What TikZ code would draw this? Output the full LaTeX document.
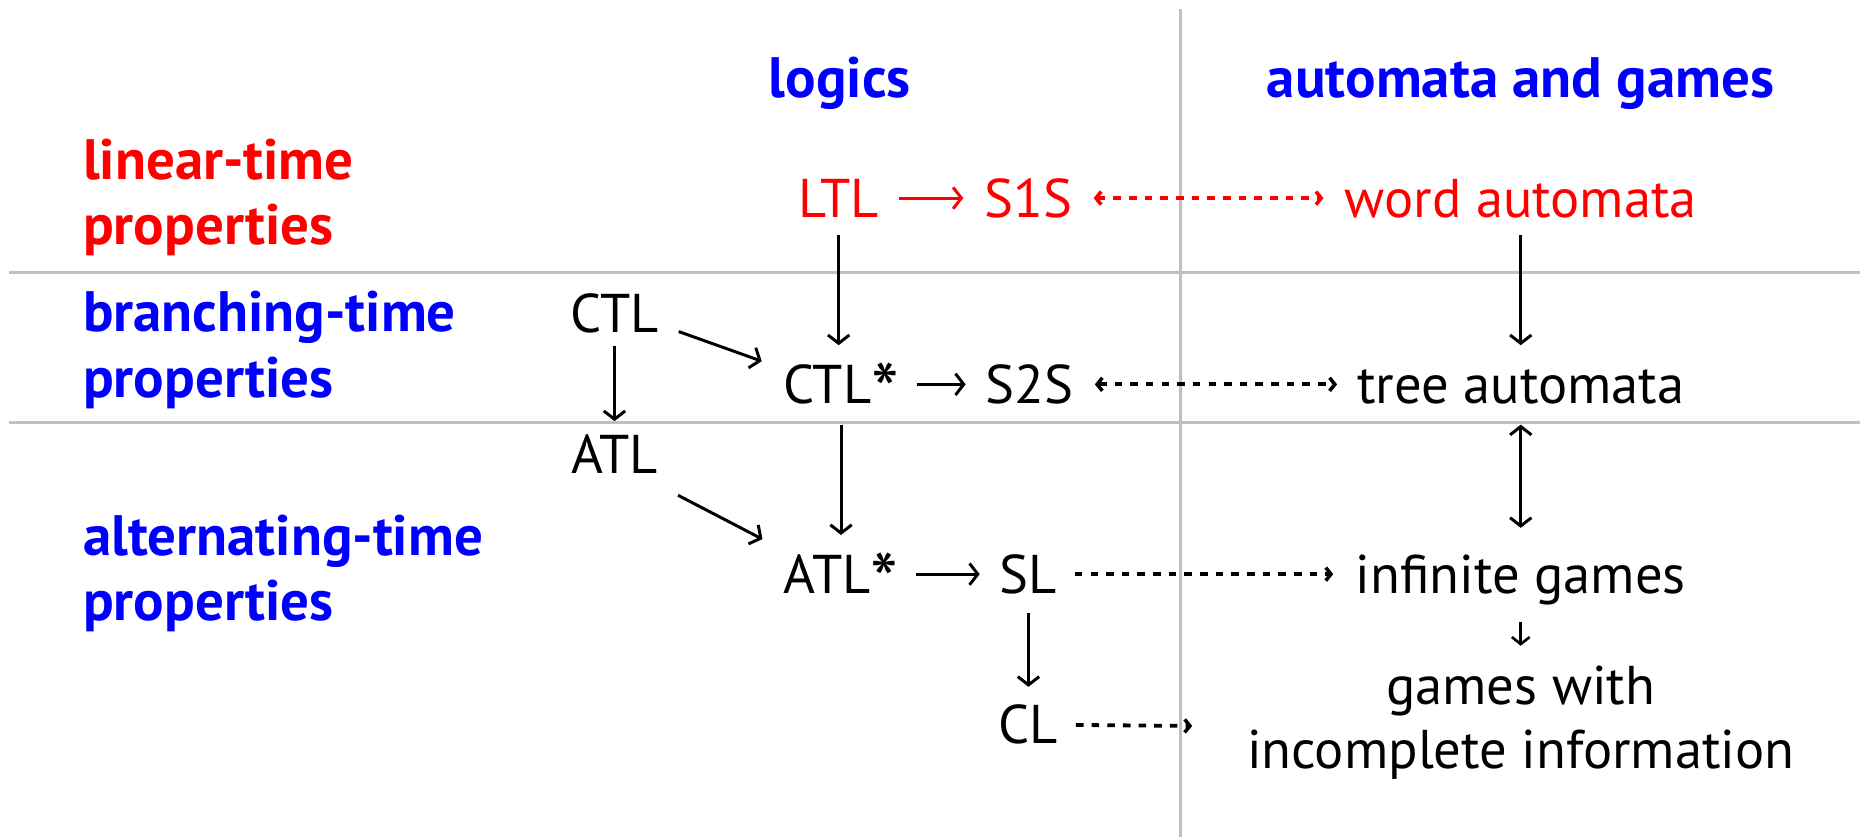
\documentclass[tikz,border=0pt]{standalone}
\usepackage{fontspec}
\setmainfont{PT Sans}
\usetikzlibrary{arrows.meta,calc}
\definecolor{gridgrey}{RGB}{192,192,192}
\definecolor{hblue}{RGB}{0,0,255}
\definecolor{hred}{RGB}{255,0,0}
\newcommand{\bigast}{\raisebox{-0.3em}{\scalebox{1.45}{*}}}
\tikzset{
  lbl/.style={inner sep=0pt, outer sep=0pt, anchor=base, font=\fontsize{23}{27}\selectfont, text height=16pt, text depth=0pt},
  head/.style={inner sep=0pt, outer sep=0pt, font=\bfseries\fontsize{24}{27.8}\selectfont, text=hblue},
  gridline/.style={draw=gridgrey, line width=1.3pt},
  solidarr/.style={line width=1.25pt, -{Straight Barb[length=3.5pt,width=9pt,line width=1.25pt]}},
  dasharr/.style={line width=1.6pt, dash pattern=on 3.2pt off 3.4pt, -{Straight Barb[length=2.2pt,width=5.5pt,line width=1.5pt]}},
  dasharrb/.style={line width=1.6pt, dash pattern=on 3.2pt off 3.4pt, {Straight Barb[length=2.2pt,width=5.5pt,line width=1.5pt]}-{Straight Barb[length=2.2pt,width=5.5pt,line width=1.5pt]}},
  bothsolid/.style={line width=1.25pt, {Straight Barb[length=3.5pt,width=9pt,line width=1.25pt]}-{Straight Barb[length=3.5pt,width=9pt,line width=1.25pt]}},
  tinyarr/.style={line width=1.1pt, -{Straight Barb[length=3pt,width=7.5pt,line width=1.1pt]}},
}
\begin{document}
\begin{tikzpicture}[x=0.5pt,y=-0.5pt]
\useasboundingbox (0,0) rectangle (1568,706);
% grid lines
\draw[gridline] (995,8) -- (995,706);
\draw[gridline] (8,230) -- (1568,230);
\draw[gridline] (8,356) -- (1568,356);
% headings
\node[head, anchor=base] (hlog) at (708,82) {logics};
\node[head, anchor=base] (haut) at (1282,82) {automata and games};
\node[head, anchor=base west, align=left, text=hred] (hlin) at (70,206.5) {linear-time\\properties};
\node[head, anchor=base west, align=left] (hbra) at (70,335) {branching-time\\properties};
\node[head, anchor=base west, align=left] (halt) at (70,523.5) {alternating-time\\properties};
% nodes
\node[lbl, text=hred] (ltl) at (707,183) {LTL};
\node[lbl, text=hred] (s1s) at (867,183) {S1S};
\node[lbl, text=hred] (word) at (1282,183) {word automata};
\node[lbl] (ctl) at (518,280) {CTL};
\node[lbl] (ctls) at (709,340) {CTL\bigast};
\node[lbl] (s2s) at (868,340) {S2S};
\node[lbl] (tree) at (1282,340) {tree automata};
\node[lbl] (atl) at (518,399) {ATL};
\node[lbl] (atls) at (709,500) {ATL\bigast};
\node[lbl] (sl) at (867,500) {SL};
\node[lbl] (inf) at (1282,500) {infinite games};
\node[lbl] (cl) at (867,627) {CL};
\node[inner sep=0pt, outer sep=0pt, anchor=base, align=center, font=\fontsize{23}{27}\selectfont] (gwi) at (1282,648) {games with\\incomplete information};
\coordinate (clend) at (1005,612);
% connectors
\draw[solidarr, draw=hred, shorten <=8.5pt, shorten >=9pt] (ltl.east) -- (s1s.west);
\draw[dasharrb, draw=hred, shorten <=9pt, shorten >=9pt] (s1s.east) -- (word.west);
\draw[solidarr, shorten <=7.5pt, shorten >=8.5pt] (ltl.south) -- (ltl.south |- ctls.north);
\draw[solidarr, shorten <=7.5pt, shorten >=8.5pt] (word.south) -- (tree.north);
\draw[solidarr] ([shift={(17,15.5)}]ctl.east) -- ([shift={(-18,-19.5)}]ctls.west);
\draw[solidarr, shorten <=6pt, shorten >=6pt] (ctl.south) -- (atl.north);
\draw[solidarr, shorten <=7.5pt, shorten >=8.5pt] (ctls.east) -- (s2s.west);
\draw[dasharrb, shorten <=9pt, shorten >=8.5pt] (s2s.east) -- (tree.west);
\draw[solidarr, shorten <=9pt, shorten >=8.5pt] (ctls.south) -- (atls.north);
\draw[bothsolid, shorten <=9pt, shorten >=11.5pt] (tree.south) -- (inf.north);
\draw[solidarr] ([shift={(17,34.5)}]atl.east) -- ([shift={(-18,-29.5)}]atls.west);
\draw[solidarr, shorten <=7.5pt, shorten >=8.5pt] (atls.east) -- (sl.west);
\draw[dasharr, shorten <=7.5pt, shorten >=9.5pt] (sl.east) -- (inf.west);
\draw[solidarr, shorten <=8.5pt, shorten >=8pt] (sl.south) -- (sl.south |- cl.north);
\draw[tinyarr, shorten <=12pt, shorten >=8.5pt] (inf.south) -- (inf.south |- gwi.north);
\draw[dasharr, shorten <=7.5pt] (cl.east) -- (clend);
\end{tikzpicture}
\end{document}
